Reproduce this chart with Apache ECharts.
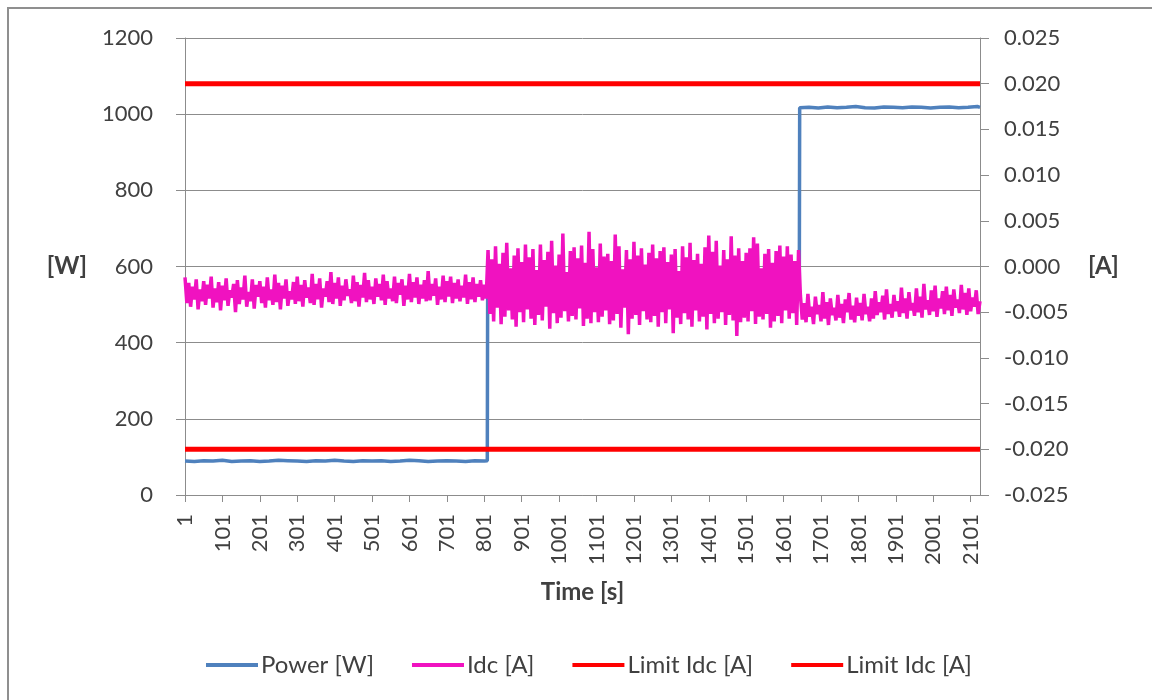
<!DOCTYPE html>
<html>
<head>
<meta charset="utf-8">
<script src="https://cdn.jsdelivr.net/npm/echarts@6/dist/echarts.min.js"></script>
<style>
  html, body { margin: 0; padding: 0; background: #ffffff; }
  #chart { width: 1152px; height: 700px; }
</style>
</head>
<body>
<div id="chart"></div>
<script>
// Logged run: one sample per second, seconds numbered from 1.
const sampleCount = 2126;
const labelEvery = 100;

// Power [W] at selected seconds (steps at 810 s and 1644 s).
const powerTimes = [
  1, 26, 51, 76, 101, 126, 151, 176, 201, 226, 251, 276, 301, 326, 351, 376, 401,
  426, 451, 476, 501, 526, 551, 576, 601, 626, 651, 676, 701, 726, 751, 776, 801, 809,
  810, 900, 1000, 1100, 1200, 1300, 1400, 1500, 1600, 1643,
  1644, 1669, 1694, 1719, 1744, 1769, 1794, 1819, 1844, 1869, 1894, 1919, 1944,
  1969, 1994, 2019, 2044, 2069, 2094, 2119, 2126
];
const powerWatts = [
  89, 88, 90, 89, 91, 88, 89, 90, 88, 89, 91, 90, 89, 88, 90, 89, 91,
  89, 88, 90, 89, 90, 88, 89, 91, 90, 88, 89, 90, 89, 88, 90, 89, 90,
  548, 551, 546, 552, 549, 547, 553, 548, 550, 549,
  1017, 1018, 1016, 1019, 1017, 1018, 1020, 1017, 1016, 1019, 1018, 1017, 1019,
  1018, 1016, 1018, 1019, 1017, 1018, 1020, 1018
];

// Idc, sampled every 5 s from t = 1, in units of 0.1 mA.
const idcStep = 5;
const idcLowLoad = [
  -12,-40,-18,-44,-22,-36,-14,-47,-25,-38,-16,-42,-20,-35,-11,-45,-24,-39,-17,-48,
  -21,-37,-13,-43,-26,-34,-19,-50,-15,-41,-23,-36,-10,-44,-28,-38,-14,-46,-20,-33,
  -16,-40,-22,-45,-12,-37,-25,-42,-9,-39,-18,-47,-21,-35,-14,-43,-27,-36,-17,-41,
  -11,-38,-20,-44,-15,-34,-23,-40,-8,-42,-19,-36,-13,-45,-24,-33,-16,-39,-6,-41,
  -18,-35,-12,-43,-21,-37,-14,-32,-25,-40,-10,-38,-17,-44,-20,-34,-7,-39,-15,-36,
  -22,-41,-13,-33,-19,-37,-9,-42,-16,-35,-24,-38,-11,-40,-18,-31,-14,-43,-21,-36,
  -8,-39,-17,-34,-12,-41,-20,-35,-15,-38,-5,-37,-19,-32,-13,-42,-22,-36,-10,-39,
  -16,-33,-11,-40,-18,-35,-14,-38,-21,-34,-9,-41,-17,-36,-12,-39,-19,-33,-15,-37,
  -20,-35
];
const idcMidLoad = [
  18,-52,8,-60,22,-45,3,-63,15,-55,26,-48,-2,-58,12,-66,20,-50,5,-61,
  24,-47,10,-57,19,-64,-4,-53,24,-59,7,-44,16,-68,28,-51,1,-62,13,-56,
  36,-49,-6,-60,17,-54,21,-58,9,-46,23,-65,4,-57,38,-62,19,-50,-1,-61,
  25,-55,11,-48,14,-63,6,-59,35,-52,22,-67,-3,-45,18,-74,8,-57,27,-53,
  12,-64,20,-49,2,-58,15,-61,24,-54,9,-66,17,-50,21,-62,5,-47,13,-73,
  19,-56,-5,-63,22,-51,10,-58,26,-66,7,-48,14,-60,3,-55,21,-69,34,-52,
  16,-62,28,-57,1,-50,18,-64,8,-53,33,-59,12,-76,20,-61,6,-56,15,-60,
  20,-49,32,-63,25,-55,-2,-58,14,-52,19,-67,4,-60,17,-54,23,-62,11,-48,
  22,-57,13,-51,6,-64,18
];
const idcHighLoad = [
  -32,-58,-40,-61,-30,-55,-44,-63,-33,-52,-42,-60,-28,-57,-39,-64,-35,-53,-45,-59,
  -31,-56,-41,-62,-36,-50,-29,-58,-43,-61,-34,-54,-40,-59,-30,-52,-44,-60,-35,-57,
  -27,-53,-39,-50,-32,-58,-25,-52,-41,-56,-31,-49,-38,-55,-23,-51,-35,-57,-28,-48,
  -40,-54,-24,-50,-33,-56,-19,-47,-37,-53,-26,-49,-21,-55,-35,-46,-27,-52,-22,-48,
  -31,-54,-25,-45,-36,-51,-20,-47,-29,-53,-24,-49,-34,-44,-26,-52,-38
];

// Idc limits [A]
const idcLimitUpper = 0.02;
const idcLimitLower = -0.02;

// Axis ranges
const powerAxis = { min: 0, max: 1200, interval: 200 };
const currentAxis = { min: -0.025, max: 0.025, interval: 0.005 };

const FONT = 'Lato, "Open Sans", sans-serif';
const TEXT = '#404040';
const GRIDLINE = '#8c8c8c';
const LABEL_SIZE = 22;
const TITLE_SIZE = 24;

const seconds = Array.from({ length: sampleCount }, (_, i) => String(i + 1));

const powerData = powerTimes.map((t, i) => [t - 1, powerWatts[i]]);
const idcData = idcLowLoad.concat(idcMidLoad, idcHighLoad)
  .map((v, i) => [i * idcStep, v / 10000]);
const lastIndex = sampleCount - 1;
const upperData = [[0, idcLimitUpper], [lastIndex, idcLimitUpper]];
const lowerData = [[0, idcLimitLower], [lastIndex, idcLimitLower]];

const everyHundredth = idx => idx % labelEvery === 0;

const chart = echarts.init(document.getElementById('chart'), null, { renderer: 'canvas' });

chart.setOption({
  animation: false,
  backgroundColor: '#ffffff',
  textStyle: { fontFamily: FONT },
  graphic: [{
    type: 'rect',
    shape: { x: 8, y: 8, width: 1160, height: 720 },
    style: { fill: 'none', stroke: '#8f8f8f', lineWidth: 2 },
    silent: true
  }],
  grid: { left: 185, right: 172, top: 38, bottom: 205, containLabel: false },
  legend: {
    top: 648,
    left: 201,
    icon: 'rect',
    itemWidth: 52,
    itemHeight: 4,
    itemGap: 38,
    textStyle: { fontSize: 24, color: TEXT, fontFamily: FONT, padding: [0, 0, 0, -2] },
    data: ['Power [W]', 'Idc [A]', 'limitUpper', 'limitLower'],
    formatter: name => (name.indexOf('limit') === 0 ? 'Limit Idc [A]' : name)
  },
  xAxis: {
    type: 'category',
    data: seconds,
    boundaryGap: false,
    name: 'Time [s]',
    nameLocation: 'middle',
    nameGap: 85,
    nameTextStyle: { fontSize: TITLE_SIZE, fontWeight: 'bold', color: TEXT, fontFamily: FONT },
    axisLine: { lineStyle: { color: GRIDLINE, width: 1 } },
    axisTick: { interval: everyHundredth, length: 7, lineStyle: { color: GRIDLINE } },
    axisLabel: {
      interval: everyHundredth,
      rotate: 90,
      margin: 19,
      fontSize: LABEL_SIZE,
      color: TEXT,
      fontFamily: FONT
    },
    splitLine: { show: false }
  },
  yAxis: [{
    type: 'value',
    position: 'left',
    min: powerAxis.min,
    max: powerAxis.max,
    interval: powerAxis.interval,
    name: '[W]',
    nameLocation: 'middle',
    nameRotate: 0,
    nameGap: 98,
    nameTextStyle: { fontSize: TITLE_SIZE, fontWeight: 'bold', color: TEXT, fontFamily: FONT },
    axisLine: { show: true, lineStyle: { color: GRIDLINE, width: 1 } },
    axisTick: { show: true, length: 9, lineStyle: { color: GRIDLINE } },
    axisLabel: {
      margin: 32,
      fontSize: LABEL_SIZE,
      color: TEXT,
      fontFamily: FONT,
      formatter: v => String(v)
    },
    splitLine: { show: true, lineStyle: { color: GRIDLINE, width: 1 } }
  }, {
    type: 'value',
    position: 'right',
    min: currentAxis.min,
    max: currentAxis.max,
    interval: currentAxis.interval,
    name: '[A]',
    nameLocation: 'middle',
    nameRotate: 0,
    nameGap: 108,
    nameTextStyle: { fontSize: TITLE_SIZE, fontWeight: 'bold', color: TEXT, fontFamily: FONT },
    axisLine: { show: true, lineStyle: { color: GRIDLINE, width: 1 } },
    axisTick: { show: true, length: 9, lineStyle: { color: GRIDLINE } },
    axisLabel: {
      margin: 24,
      fontSize: LABEL_SIZE,
      color: TEXT,
      fontFamily: FONT,
      formatter: v => v.toFixed(3)
    },
    splitLine: { show: false }
  }],
  series: [{
    name: 'Power [W]',
    type: 'line',
    yAxisIndex: 0,
    data: powerData,
    showSymbol: false,
    color: '#4f81bd',
    lineStyle: { color: '#4f81bd', width: 3.5 },
    z: 2
  }, {
    name: 'Idc [A]',
    type: 'line',
    yAxisIndex: 1,
    data: idcData,
    showSymbol: false,
    color: '#f012c0',
    lineStyle: { color: '#f012c0', width: 3.5 },
    z: 3
  }, {
    name: 'limitUpper',
    type: 'line',
    yAxisIndex: 1,
    data: upperData,
    showSymbol: false,
    color: '#ff0000',
    lineStyle: { color: '#ff0000', width: 5 },
    z: 4
  }, {
    name: 'limitLower',
    type: 'line',
    yAxisIndex: 1,
    data: lowerData,
    showSymbol: false,
    color: '#ff0000',
    lineStyle: { color: '#ff0000', width: 5 },
    z: 4
  }]
});
</script>
</body>
</html>
